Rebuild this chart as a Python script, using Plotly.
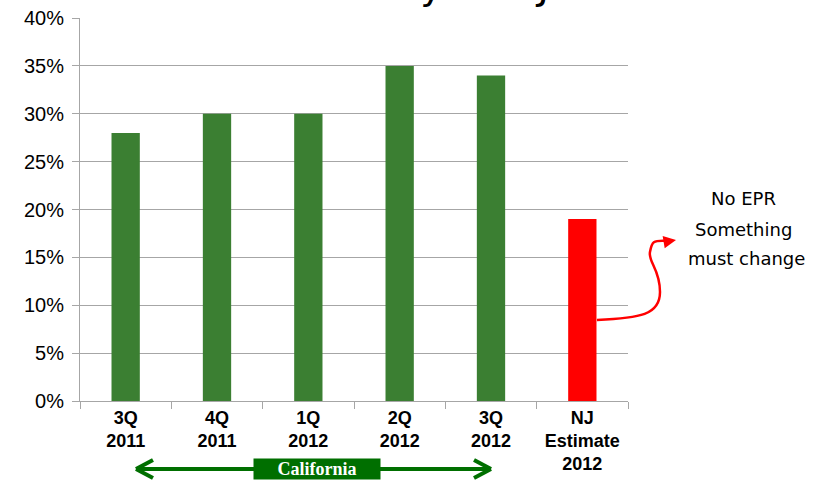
import plotly.graph_objects as go

categories = ["3Q<br>2011", "4Q<br>2011", "1Q<br>2012", "2Q<br>2012", "3Q<br>2012", "NJ<br>Estimate<br>2012"]
recovery = [0.28, 0.30, 0.30, 0.35, 0.34, 0.19]
bar_colors = ["#3b7f32"] * 5 + ["#ff0000"]
title_text = "CA Recovery vs NJ"
note_lines = ["No EPR", "Something", "must change"]
region_text = "California"

W, H = 821, 483
L, R, T, B = 80, 628, 18, 401

def px(x):
    return (x - L) / (R - L)

def py(y):
    return (B - y) / (B - T)

fig = go.Figure(go.Bar(x=categories, y=recovery, marker=dict(color=bar_colors, line=dict(width=0)),
                       width=0.31))

green = "#006f00"
shapes = []
# California double arrow
shapes.append(dict(type="line", xref="paper", yref="paper", x0=px(137), x1=px(490), y0=py(469), y1=py(469),
                   line=dict(color=green, width=4)))
for tip, sgn in ((136, 1), (491, -1)):
    for dy in (-9, 9):
        shapes.append(dict(type="line", xref="paper", yref="paper", x0=px(tip), y0=py(469),
                           x1=px(tip + sgn * 17), y1=py(469 + dy), line=dict(color=green, width=4)))
# Curved red arrow path
path = "M {:.4f},{:.4f} C {:.4f},{:.4f} {:.4f},{:.4f} {:.4f},{:.4f} S {:.4f},{:.4f} {:.4f},{:.4f} S {:.4f},{:.4f} {:.4f},{:.4f}".format(
    px(597), py(320),
    px(640), py(318), px(660), py(315), px(660), py(292),
    px(648), py(262), px(650), py(252),
    px(652), py(240), px(668), py(241),
)
shapes.append(dict(type="path", xref="paper", yref="paper", path=path, line=dict(color="#ff0000", width=2.5)))

annotations = [
    dict(text=title_text, xref="paper", yref="paper", x=px(375), y=py(10), xanchor="center", yanchor="bottom",
         showarrow=False, font=dict(family="DejaVu Sans", size=38, color="black")),
    dict(text="<b>" + region_text + "</b>", xref="paper", yref="paper", x=px(317), y=py(469),
         xanchor="center", yanchor="middle", showarrow=False, bgcolor=green, borderpad=0,
         width=126,
         font=dict(family="Liberation Serif", size=18, color="white")),
    dict(text="", xref="paper", yref="paper", x=px(676), y=py(240), ax=-12, ay=2,
         showarrow=True, arrowhead=2, arrowsize=1, arrowwidth=2.5, arrowcolor="#ff0000"),
]
for line, (cx, cy) in zip(note_lines, [(743, 198), (743, 229), (746, 258)]):
    annotations.append(dict(text=line, xref="paper", yref="paper", x=px(cx), y=py(cy), xanchor="center",
                            yanchor="middle", showarrow=False,
                            font=dict(family="DejaVu Sans", size=18, color="black")))

fig.update_layout(
    width=W, height=H,
    margin=dict(l=L, r=W - R, t=T, b=H - B, pad=0, autoexpand=False),
    plot_bgcolor="white", paper_bgcolor="white",
    showlegend=False,
    shapes=shapes,
    annotations=annotations,
    bargap=0.69,
    font=dict(family="Liberation Sans, Arial", color="black"),
)
fig.update_yaxes(range=[0, 0.40], dtick=0.05, tickformat=".0%", showgrid=True, gridcolor="#a6a6a6",
                 gridwidth=1, showline=True, linecolor="#a6a6a6", linewidth=1, ticks="outside",
                 ticklen=7, tickcolor="#a6a6a6", tickfont=dict(size=20, color="black"), zeroline=False,
                 ticklabelstandoff=4, fixedrange=True, automargin=False)
fig.update_xaxes(type="category", showline=True, linecolor="#a6a6a6", linewidth=1, ticks="outside",
                 tickson="boundaries", ticklen=7, tickcolor="#a6a6a6",
                 tickfont=dict(size=18, color="black", family="Liberation Sans, Arial", weight="bold"),
                 showgrid=False, fixedrange=True, automargin=False)

fig.write_html("out.html", config={"displayModeBar": False},
               post_script="document.body.style.margin='0';document.body.style.overflow='hidden';")
